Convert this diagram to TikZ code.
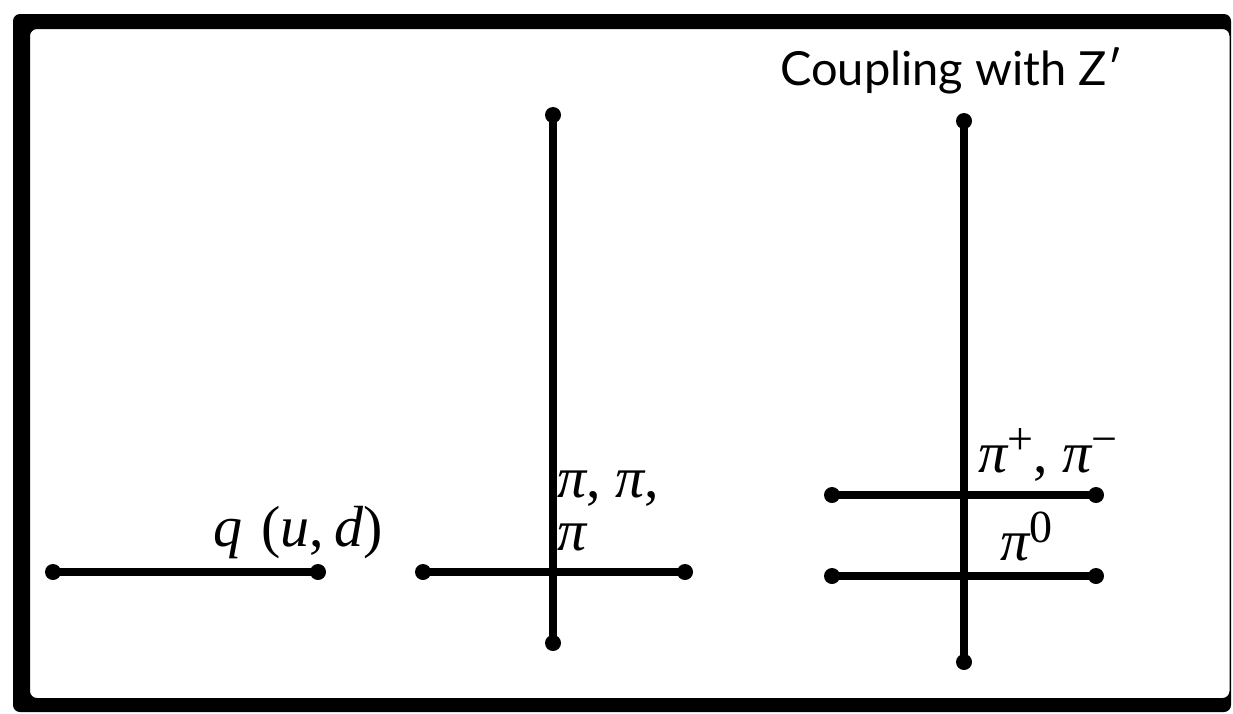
\documentclass[tikz,border=0pt]{standalone}
\usepackage{fontspec}
\setmainfont{Liberation Serif}
\newfontfamily\labelsans{Lato}
\newcommand{\supx}[1]{\raisebox{18pt}{\fontsize{46}{46}\selectfont\upshape #1}}
\newcommand{\up}[1]{{\upshape #1}}
\begin{document}
\begin{tikzpicture}[x=1pt,y=-1pt,
  wire/.style={line width=8.5pt, line cap=round},
  enddot/.style={circle, fill=black, inner sep=0pt, minimum size=16pt},
  mlabel/.style={anchor=base west, inner sep=0pt, font=\fontsize{58}{60}\selectfont\itshape},
  title/.style={anchor=base west, inner sep=0pt, font=\labelsans\fontsize{47}{50}\selectfont}]
\useasboundingbox (0,0) rectangle (1233,713);
% frame
\fill[even odd rule, rounded corners=7pt] (13,14) rectangle (1231,712) (30,29) rectangle (1229.5,698);

% line 1: quark
\node[enddot] (qa) at (53,572) {};
\node[enddot] (qb) at (318,572) {};
\draw[wire] (qa.center) -- (qb.center);
\node[mlabel] (ql) at (213,546) {q\,\,\up{(}u\up{,}\,d\up{)}};

% line 2: three pions
\node[enddot] (ha) at (423,572) {};
\node[enddot] (hb) at (685,572) {};
\node[enddot] (va) at (553,115) {};
\node[enddot] (vb) at (553,643) {};
\draw[wire] (ha.center) -- (hb.center);
\draw[wire] (va.center) -- (vb.center);
\node[mlabel] (p1) at (557,497) {π\up{,} π\up{,}};
\node[mlabel] (p2) at (557,550) {π};

% line 3: coupling with Z'
\node[enddot] (wa) at (964,121) {};
\node[enddot] (wb) at (964,662) {};
\node[enddot] (ua) at (832,495) {};
\node[enddot] (ub) at (1096,495) {};
\node[enddot] (la) at (832,576) {};
\node[enddot] (lb) at (1096,576) {};
\draw[wire] (wa.center) -- (wb.center);
\draw[wire] (ua.center) -- (ub.center);
\draw[wire] (la.center) -- (lb.center);
\node[mlabel] (pc) at (978,472) {π\supx{+}\up{,} π\supx{−}};
\node[mlabel] (p0) at (1000,560) {π\supx{0}};
\node[title] (tt) at (780,85) {Coupling with Z′};
\end{tikzpicture}
\end{document}
